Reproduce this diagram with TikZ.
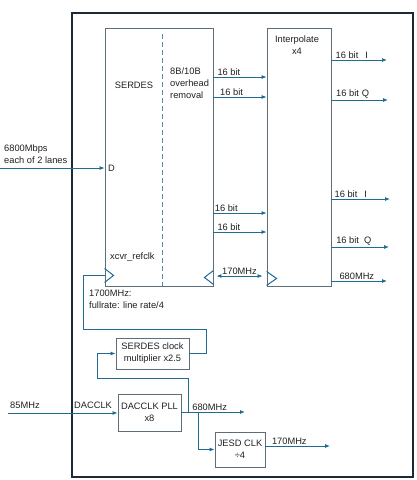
\documentclass[tikz,border=0pt]{standalone}
\usepackage{fontspec}
\setmainfont{Liberation Sans}
\usetikzlibrary{arrows.meta,calc}

\definecolor{wire}{HTML}{1F6B94}
\definecolor{chipedge}{HTML}{1B2A38}
\definecolor{boxedge}{HTML}{5E6E78}
\definecolor{divider}{HTML}{4B8DB8}
\definecolor{txt}{HTML}{202020}

\tikzset{
	box/.style={draw=boxedge, line width=0.9pt, inner sep=0pt, text=txt, align=center,
		font=\fontsize{9.3}{12}\selectfont},
	wire/.style={draw=wire, line width=0.8pt},
	arr/.style={wire, -{Latex[length=5pt,width=4pt]}},
	lbl/.style={font=\fontsize{9.3}{12}\selectfont, text=txt, inner sep=1pt},
	clk/.style={draw=wire, line width=1pt},
}

\begin{document}
\begin{tikzpicture}[x=1pt,y=-1pt]
	\useasboundingbox (0,0) rectangle (417,480);

	% chip outline and blocks
	\node[draw=chipedge, line width=1.5pt, minimum width=341pt, minimum height=464pt] (chip) at (242.5,245) {};
	\node[box, minimum width=108pt, minimum height=258pt] (serdes) at (159,157) {};
	\node[box, minimum width=64pt, minimum height=258pt] (interp) at (299,157) {};
	\node[box, minimum width=73pt, minimum height=31pt] (mult) at (152.5,353.5) {SERDES clock\\multiplier x2.5};
	\node[box, minimum width=63pt, minimum height=37pt] (pll) at (149.5,412.5) {DACCLK PLL\\x8};
	\node[box, minimum width=50pt, minimum height=35pt] (jesd) at (240,449.5) {JESD CLK\\÷4};

	% texts inside the big blocks
	\node[lbl] (serdestxt) at (134,85) {SERDES};
	\node[lbl, anchor=north west, align=left] (codec) at (169,67) {8B/10B\\overhead\\removal};
	\node[lbl, anchor=north, align=center] (interptxt) at (297,35) {Interpolate\\x4};
	\node[lbl, anchor=west] (dport) at (107,168) {D};
	\node[lbl, anchor=west] (refclk) at (109,257) {xcvr\_refclk};
	\draw[wire, dashed, draw=divider, dash pattern=on 5pt off 3pt] (162,34) -- (162,286);

	% clock pins
	\draw[clk] ($(serdes.south west)+(0,-18)$) -- ++(9,7) -- ++(-9,7);
	\draw[clk] ($(serdes.south east)+(0,-16)$) -- ++(-9,7) -- ++(9,7);
	\draw[clk] ($(interp.south west)+(0,-15)$) -- ++(10,7) -- ++(-10,7);

	% rows
	\coordinate (r1) at (0,77);
	\coordinate (r2) at (0,97);
	\coordinate (r3) at (0,213);
	\coordinate (r4) at (0,232);
	\coordinate (r5) at (0,276);

	\draw[arr] (serdes.east |- r1) -- node[lbl, pos=0.05, anchor=south west]{16 bit} (interp.west |- r1);
	\draw[arr] (serdes.east |- r2) -- node[lbl, pos=0.1, anchor=south west]{16 bit} (interp.west |- r2);
	\draw[arr] (serdes.east |- r3) -- node[lbl, pos=0.0, anchor=south west]{16 bit} (interp.west |- r3);
	\draw[arr] (serdes.east |- r4) -- node[lbl, pos=0.05, anchor=south west]{16 bit} (interp.west |- r4);
	\draw[wire, {Latex[length=5pt,width=4pt]}-{Latex[length=5pt,width=4pt]}]
		($(serdes.east |- r5)+(3,0)$) -- node[lbl, anchor=south]{170MHz} ($(interp.west |- r5)+(-4,0)$);

	% outputs
	\coordinate (oi1) at (387,60);
	\coordinate (oq1) at (388,100);
	\coordinate (oi2) at (390,199);
	\coordinate (oq2) at (389,247);
	\coordinate (ofc) at (387,281);
	\draw[arr] (interp.east |- oi1) -- node[lbl, pos=0.05, anchor=south west]{16 bit\hspace{7pt}I} (oi1);
	\draw[arr] (interp.east |- oq1) -- node[lbl, pos=0.06, anchor=south west]{16 bit\hspace{3pt}Q} (oq1);
	\draw[arr] (interp.east |- oi2) -- node[lbl, pos=0.03, anchor=south west]{16 bit\hspace{7pt}I} (oi2);
	\draw[arr] (interp.east |- oq2) -- node[lbl, pos=0.06, anchor=south west]{16 bit\hspace{5pt}Q} (oq2);
	\draw[arr] (interp.east |- ofc) -- node[lbl, pos=0.12, anchor=south west]{680MHz} (ofc);

	% serial input
	\coordinate (lanes) at (0,168);
	\node[lbl, anchor=south west, align=left] (lanetxt) at (3,165) {6800Mbps\\each of 2 lanes};
	\draw[arr] (lanes) -- (serdes.west |- lanes);

	% reference clock loop
	\node[lbl, anchor=north west, align=left] (refnote) at (88,289) {1700MHz:\\fullrate: line rate/4};
	\draw[wire] (mult.east) -- (206,353.5) -- (206,329) -- (83,329) -- (83,275) -- (serdes.west |- 0,275);

	% DAC clock
	\coordinate (dacin) at (8,413);
	\node[lbl, anchor=south west] (dacfreq) at (9,410) {85MHz};
	\node[lbl, anchor=south west] (dacname) at (73,410) {DACCLK};
	\draw[arr] (dacin) -- (pll.west |- dacin);
	\coordinate (pllout) at (245,412);
	\draw[arr] (pll.east |- pllout) -- node[lbl, pos=0.15, anchor=south west]{680MHz} (pllout);
	\draw[arr] (188,412) -- (188,378) -- (97,378) -- (97,353.5) -- (mult.west);
	\draw[arr] (198,412) -- (198,449.5) -- (jesd.west);
	\coordinate (jesdout) at (330,446);
	\draw[arr] (jesd.east |- jesdout) -- node[lbl, pos=0.08, anchor=south west]{170MHz} (jesdout);
\end{tikzpicture}
\end{document}
